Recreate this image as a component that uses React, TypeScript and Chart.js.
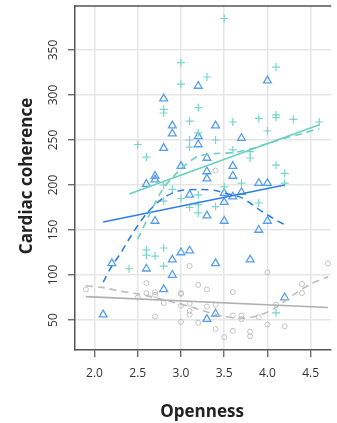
import React, { useEffect, useRef } from "react";
import { Chart, registerables } from "chart.js";
Chart.register(...registerables);

// ---- data (Openness, Cardiac coherence) ----
const lowPoints: number[][] = [
  [1.9, 84], [2.5, 75], [2.6, 91], [2.6, 80], [2.7, 81], [2.7, 78], [2.7, 54], [2.8, 69],
  [3.0, 80], [3.0, 79], [3.0, 66], [3.0, 48], [3.1, 110], [3.1, 68], [3.1, 60], [3.1, 56],
  [3.2, 89], [3.2, 47], [3.3, 84], [3.3, 65], [3.4, 216], [3.4, 67], [3.4, 40], [3.5, 31],
  [3.6, 81], [3.6, 55], [3.6, 38], [3.7, 55], [3.7, 51], [3.8, 37], [3.8, 32], [3.9, 53],
  [4.0, 103], [4.0, 45], [4.1, 67], [4.2, 43], [4.4, 90], [4.4, 80], [4.7, 113],
];
const midPoints: number[][] = [
  [2.1, 56], [2.2, 113], [2.6, 201], [2.6, 107], [2.7, 210], [2.7, 206], [2.7, 160],
  [2.8, 296], [2.8, 241], [2.8, 84], [2.9, 266], [2.9, 257], [2.9, 117], [2.9, 100],
  [3.0, 221], [3.0, 125], [3.1, 189], [3.1, 127], [3.2, 310], [3.2, 254], [3.2, 245],
  [3.3, 230], [3.3, 215], [3.3, 207], [3.3, 166], [3.3, 51], [3.4, 266], [3.4, 113],
  [3.4, 57], [3.5, 191], [3.5, 181], [3.5, 160], [3.6, 221], [3.6, 210], [3.6, 187],
  [3.7, 252], [3.7, 192], [3.8, 117], [3.9, 202], [3.9, 150], [4.0, 316], [4.0, 202],
  [4.0, 160], [4.2, 75],
];
const highPoints: number[][] = [
  [2.4, 107], [2.5, 245], [2.6, 231], [2.6, 128], [2.6, 122], [2.7, 121], [2.8, 284],
  [2.8, 280], [2.8, 130], [2.8, 110], [2.8, 200], [2.8, 182], [2.9, 195], [3.0, 336],
  [3.0, 312], [3.0, 185], [3.1, 271], [3.1, 250], [3.1, 242], [3.1, 175], [3.2, 286],
  [3.2, 258], [3.2, 189], [3.2, 178], [3.2, 169], [3.3, 320], [3.4, 250], [3.4, 176],
  [3.5, 385], [3.5, 198], [3.6, 270], [3.6, 239], [3.7, 202], [3.8, 237], [3.8, 230],
  [3.9, 274], [3.9, 180], [4.0, 260], [4.1, 331], [4.1, 278], [4.1, 275], [4.1, 222],
  [4.1, 58], [4.2, 213], [4.2, 202], [4.3, 273], [4.6, 270],
];
const lowFit: number[][] = [[1.9, 76], [4.7, 64]];
const midFit: number[][] = [[2.1, 159], [4.2, 200]];
const highFit: number[][] = [[2.4, 190], [4.6, 267]];
const lowLoess: number[][] = [
  [1.9, 88], [2.1, 86], [2.3, 82], [2.5, 79], [2.7, 75], [2.9, 70], [3.1, 65], [3.3, 59],
  [3.5, 54], [3.7, 52], [3.9, 55], [4.1, 64], [4.3, 78], [4.5, 90], [4.7, 98],
];
const midLoess: number[][] = [
  [2.1, 92], [2.2, 110], [2.3, 124], [2.4, 140], [2.5, 155], [2.6, 168], [2.7, 178],
  [2.8, 186], [2.9, 191], [3.0, 194], [3.2, 195], [3.4, 194], [3.5, 191], [3.6, 189],
  [3.7, 186], [3.8, 180], [3.9, 173], [4.0, 167], [4.1, 161], [4.2, 156],
];
const highLoess: number[][] = [
  [2.5, 140], [2.6, 160], [2.7, 180], [2.8, 197], [2.9, 208], [3.0, 218], [3.1, 226],
  [3.2, 232], [3.4, 235], [3.6, 236], [3.8, 240], [4.0, 246], [4.2, 252], [4.4, 257],
  [4.6, 263],
];
const xTickValues = [2.0, 2.5, 3.0, 3.5, 4.0, 4.5];
const yTickValues = [50, 100, 150, 200, 250, 300, 350];
const xTitle = "Openness";
const yTitle = "Cardiac coherence";

const GRAY = "#c2c2c2";
const BLUE_PT = "#589eee";
const BLUE_LN = "#2f7fe4";
const CYAN = "#7ad6ca";
const FONT = '"Open Sans", "DejaVu Sans", sans-serif';

const toXY = (a: number[][]) => a.map(([x, y]) => ({ x, y }));

const decor = {
  id: "decor",
  afterDraw(chart: any) {
    const { ctx, chartArea, scales } = chart;
    ctx.save();
    ctx.strokeStyle = "#555";
    ctx.lineWidth = 1.5;
    ctx.beginPath();
    ctx.moveTo(chartArea.left, chartArea.top);
    ctx.lineTo(chartArea.right, chartArea.top);
    ctx.stroke();

    ctx.fillStyle = "#333";
    ctx.font = `12px ${FONT}`;
    ctx.textAlign = "center";
    ctx.textBaseline = "alphabetic";
    for (const t of scales.y.ticks) {
      const py = scales.y.getPixelForValue(t.value);
      ctx.save();
      ctx.translate(57, py);
      ctx.rotate(-Math.PI / 2);
      ctx.fillText(String(t.value), 0, 0);
      ctx.restore();
    }

    ctx.fillStyle = "#222";
    ctx.font = `bold 17px ${FONT}`;
    ctx.fillText(xTitle, (chartArea.left + chartArea.right) / 2 - 1, 417);
    ctx.save();
    ctx.translate(32, (chartArea.top + chartArea.bottom) / 2 - 2);
    ctx.rotate(-Math.PI / 2);
    ctx.fillText(yTitle, 0, 0);
    ctx.restore();
    ctx.restore();
  },
};

export default function App() {
  const ref = useRef<HTMLCanvasElement>(null);
  useEffect(() => {
    if (!ref.current) return;
    const line = (d: number[][], color: string, dashed: boolean) => ({
      type: "line" as const,
      data: toXY(d),
      showLine: true,
      borderColor: color,
      borderWidth: 1.6,
      borderDash: dashed ? [7, 5] : [],
      pointRadius: 0,
      tension: dashed ? 0.3 : 0,
      fill: false,
    });
    const chart = new Chart(ref.current, {
      type: "scatter",
      data: {
        datasets: [
          line(highFit, "#6ccfc2", false),
          line(highLoess, "#6ccfc2", true),
          line(midFit, BLUE_LN, false),
          line(midLoess, BLUE_LN, true),
          line(lowFit, "#b0b0b0", false),
          line(lowLoess, "#bdbdbd", true),
          {
            data: toXY(highPoints),
            pointStyle: "cross",
            pointRadius: 4,
            borderColor: CYAN,
            backgroundColor: "transparent",
            borderWidth: 1.2,
          },
          {
            data: toXY(midPoints),
            pointStyle: "triangle",
            pointRadius: 4.5,
            borderColor: BLUE_PT,
            backgroundColor: "transparent",
            borderWidth: 1.3,
          },
          {
            data: toXY(lowPoints),
            pointStyle: "circle",
            pointRadius: 2.5,
            borderColor: GRAY,
            backgroundColor: "transparent",
            borderWidth: 1,
          },
        ] as any,
      },
      options: {
        animation: false,
        responsive: false,
        events: [],
        layout: { padding: { top: 6, left: 0, right: 0, bottom: 0 } },
        plugins: { legend: { display: false }, tooltip: { enabled: false } },
        scales: {
          x: {
            type: "linear",
            min: 1.774,
            max: 4.738,
            afterBuildTicks: (s: any) => {
              s.ticks = xTickValues.map((v) => ({ value: v }));
            },
            afterFit: (s: any) => {
              s.height = 73;
            },
            grid: { color: "#e6e6e6", lineWidth: 1.5, tickColor: "#555", tickLength: 7, tickWidth: 1.2 },
            border: { display: true, color: "#555", width: 1.5 },
            ticks: {
              color: "#333",
              font: { size: 12, family: FONT },
              padding: 9,
              maxRotation: 0,
              callback: (v: any) => Number(v).toFixed(1),
            },
          },
          y: {
            type: "linear",
            min: 16.7,
            max: 398.9,
            afterBuildTicks: (s: any) => {
              s.ticks = yTickValues.map((v) => ({ value: v }));
            },
            afterFit: (s: any) => {
              s.width = 75;
            },
            grid: { color: "#e6e6e6", lineWidth: 1.5, tickColor: "#555", tickLength: 7, tickWidth: 1.2 },
            border: { display: true, color: "#555", width: 1.5 },
            ticks: { display: false },
          },
        },
      },
      plugins: [decor],
    } as any);
    return () => chart.destroy();
  }, []);
  return (
    <div style={{ position: "absolute", left: 0, top: 0, width: 337, height: 423, background: "#fff" }}>
      <canvas ref={ref} width={337} height={423} style={{ display: "block" }} />
    </div>
  );
}
